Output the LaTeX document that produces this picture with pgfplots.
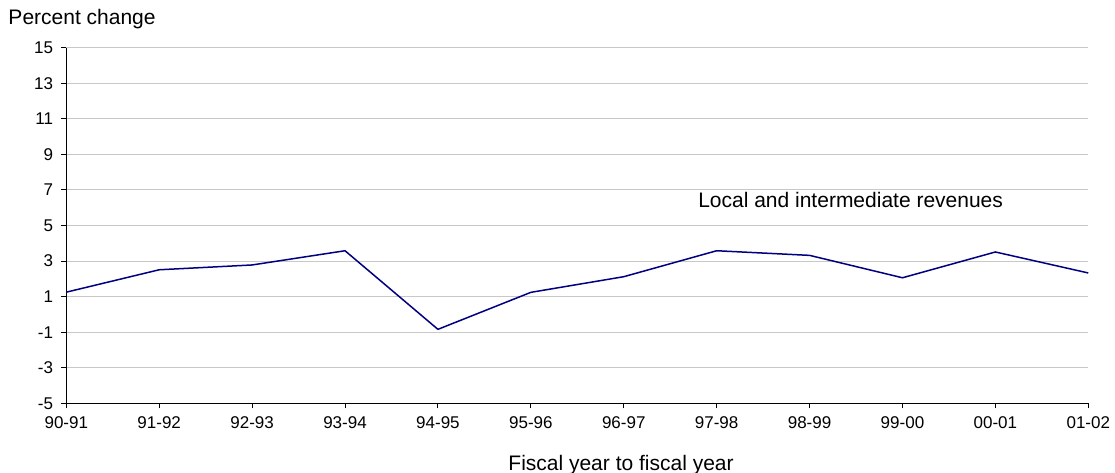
\documentclass[border=0pt]{standalone}
\usepackage{pgfplots}
\pgfplotsset{compat=1.18}
\usepackage{fontspec}
\setmainfont{Liberation Sans}
\definecolor{navyline}{RGB}{0,0,128}
\definecolor{gridgray}{RGB}{200,200,200}
\begin{document}
\begin{tikzpicture}
\useasboundingbox (0,0) rectangle (1115pt,473pt);
\begin{axis}[
  at={(66.3pt,69.7pt)}, anchor=south west,
  scale only axis, width=1022pt, height=355.6pt,
  xmin=0, xmax=11, ymin=-5, ymax=15,
  xtick={0,1,2,3,4,5,6,7,8,9,10,11},
  xticklabels={90-91,91-92,92-93,93-94,94-95,95-96,96-97,97-98,98-99,99-00,00-01,01-02},
  ytick={-5,-3,-1,1,3,5,7,9,11,13,15},
  yticklabels={-5,-3,-1,1,3,5,7,9,11,13,15},
  axis x line*=bottom, axis y line*=left,
  axis line style={-, black, line width=1pt},
  ymajorgrids, major grid style={gridgray, line width=1pt},
  tick align=outside, major tick length=5pt,
  tick style={black, line width=1pt},
  ticklabel style={font=\fontsize{17}{20}\selectfont},
  xticklabel style={inner sep=0pt, anchor=north, yshift=-8.4pt},
  yticklabel style={inner sep=0pt, anchor=east, xshift=-8pt},
  xlabel={Fiscal year to fiscal year},
  ylabel={Percent change},
  every axis x label/.style={at={(rel axis cs:0.5428,0)}, anchor=base, yshift=-67.4pt, font=\fontsize{21}{24}\selectfont, inner sep=0pt},
  every axis y label/.style={at={(rel axis cs:0,1)}, anchor=base west, xshift=-58pt, yshift=22.7pt, font=\fontsize{21}{24}\selectfont, inner sep=0pt},
  clip=false,
]
\addplot[navyline, line width=1.5pt] coordinates {
(0,1.25) (1,2.51) (2,2.78) (3,3.58) (4,-0.84) (5,1.24)
(6,2.12) (7,3.58) (8,3.32) (9,2.06) (10,3.51) (11,2.33)
};
\node[anchor=base west, inner sep=0pt, font=\fontsize{21}{24}\selectfont] at (axis cs:6.8,6.02) {Local and intermediate revenues};
\end{axis}
\end{tikzpicture}
\end{document}
